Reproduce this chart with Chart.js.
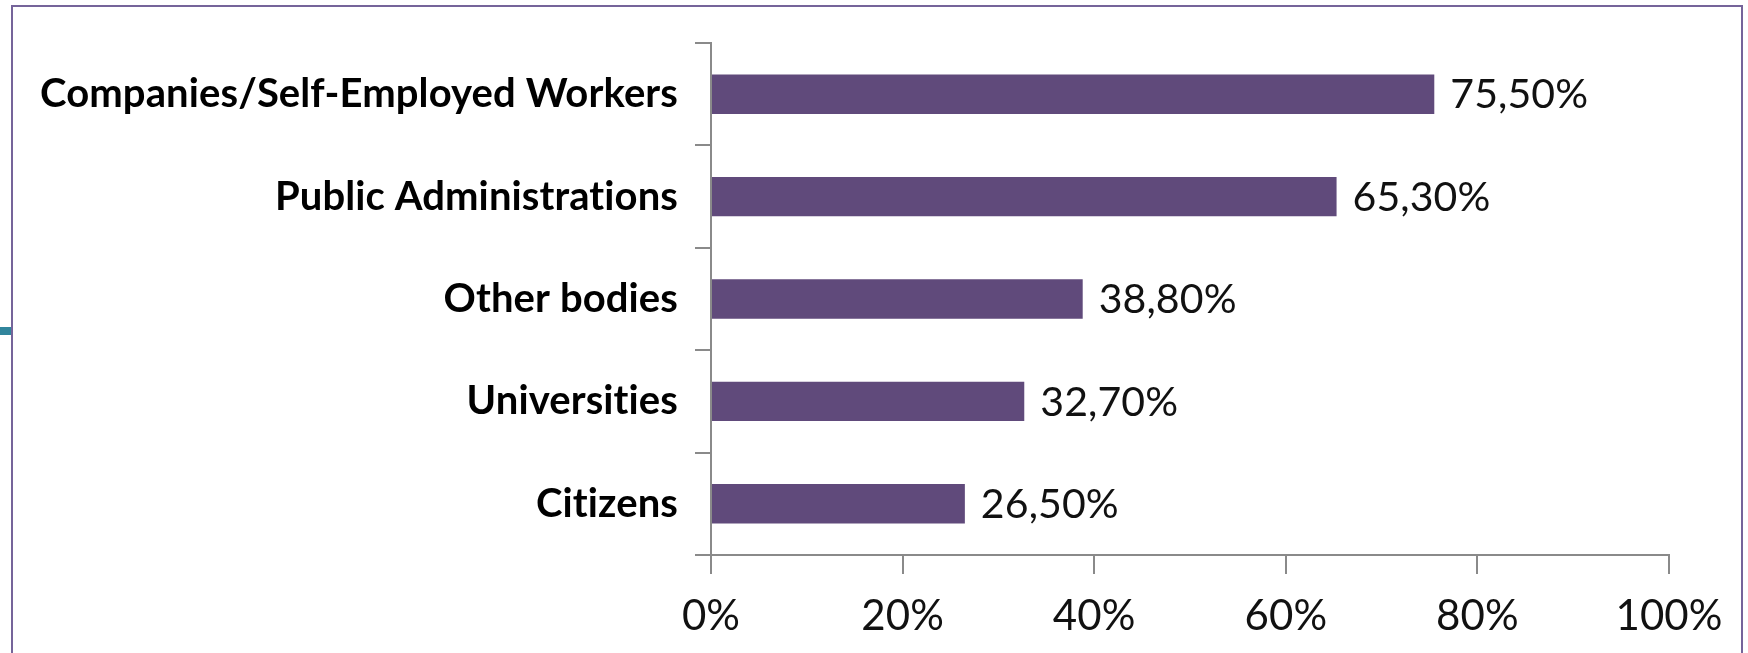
<!DOCTYPE html>
<html>
<head>
<meta charset="utf-8">
<script src="https://cdn.jsdelivr.net/npm/chart.js@4/dist/chart.umd.min.js"></script>
<style>
html,body{margin:0;padding:0;background:#fff;overflow:hidden;width:1748px;height:653px}
#frame{position:absolute;left:11px;top:5px;width:1732px;height:720px;border:2px solid #75649a;box-sizing:border-box;pointer-events:none}
#mark{position:absolute;left:0;top:327px;width:11px;height:8px;background:#31859c}
#c{position:absolute;left:0;top:0}
</style>
</head>
<body>
<canvas id="c" width="1748" height="653"></canvas>
<div id="frame"></div>
<div id="mark"></div>
<script>
const categories = ['Companies/Self-Employed Workers', 'Public Administrations', 'Other bodies', 'Universities', 'Citizens'];
const values = [75.5, 65.3, 38.8, 32.7, 26.5];
const xTickValues = [0, 20, 40, 60, 80, 100];

const axisColor = '#8a8a8a';
const barColor = '#604a7b';

const noLigatures = {
  id: 'noLigatures',
  beforeUpdate(chart) { if ('letterSpacing' in chart.ctx) chart.ctx.letterSpacing = '0.1px'; },
  beforeDraw(chart) { if ('letterSpacing' in chart.ctx) chart.ctx.letterSpacing = '0.1px'; }
};

const dataLabels = {
  id: 'dataLabels',
  afterDatasetsDraw(chart) {
    const ctx = chart.ctx;
    const meta = chart.getDatasetMeta(0);
    ctx.save();
    ctx.font = '41px Lato';
    ctx.fillStyle = '#111';
    ctx.textAlign = 'left';
    ctx.textBaseline = 'middle';
    meta.data.forEach((bar, i) => {
      const txt = values[i].toFixed(2).replace('.', ',') + '%';
      ctx.fillText(txt, bar.x + 16, bar.y + 1);
    });
    ctx.restore();
  }
};

new Chart(document.getElementById('c'), {
  type: 'bar',
  data: {
    labels: categories,
    datasets: [{
      data: values,
      backgroundColor: barColor,
      borderWidth: 0,
      categoryPercentage: 1,
      barPercentage: 0.385
    }]
  },
  options: {
    indexAxis: 'y',
    responsive: false,
    animation: false,
    devicePixelRatio: 1,
    layout: { padding: { left: 0, right: 79, top: 43, bottom: 0 } },
    plugins: { legend: { display: false }, tooltip: { enabled: false } },
    scales: {
      x: {
        min: 0, max: 100,
        afterBuildTicks: s => { s.ticks = xTickValues.map(v => ({ value: v })); },
        ticks: { callback: v => v + '%', font: { family: 'Lato', size: 42 }, color: '#111', padding: 17, maxRotation: 0 },
        grid: { drawOnChartArea: false, drawTicks: true, tickLength: 19, color: axisColor, lineWidth: 2 },
        border: { display: true, color: axisColor, width: 2 },
        afterFit: s => { s.height = 98; }
      },
      y: {
        ticks: { font: { family: 'Lato', size: 40, weight: 'bold' }, color: '#000', padding: 17 },
        grid: { offset: true, drawOnChartArea: false, drawTicks: true, tickLength: 16, color: axisColor, lineWidth: 2 },
        border: { display: true, color: axisColor, width: 2 },
        afterFit: s => { s.width = 711; }
      }
    }
  },
  plugins: [noLigatures, dataLabels]
});
</script>
</body>
</html>
